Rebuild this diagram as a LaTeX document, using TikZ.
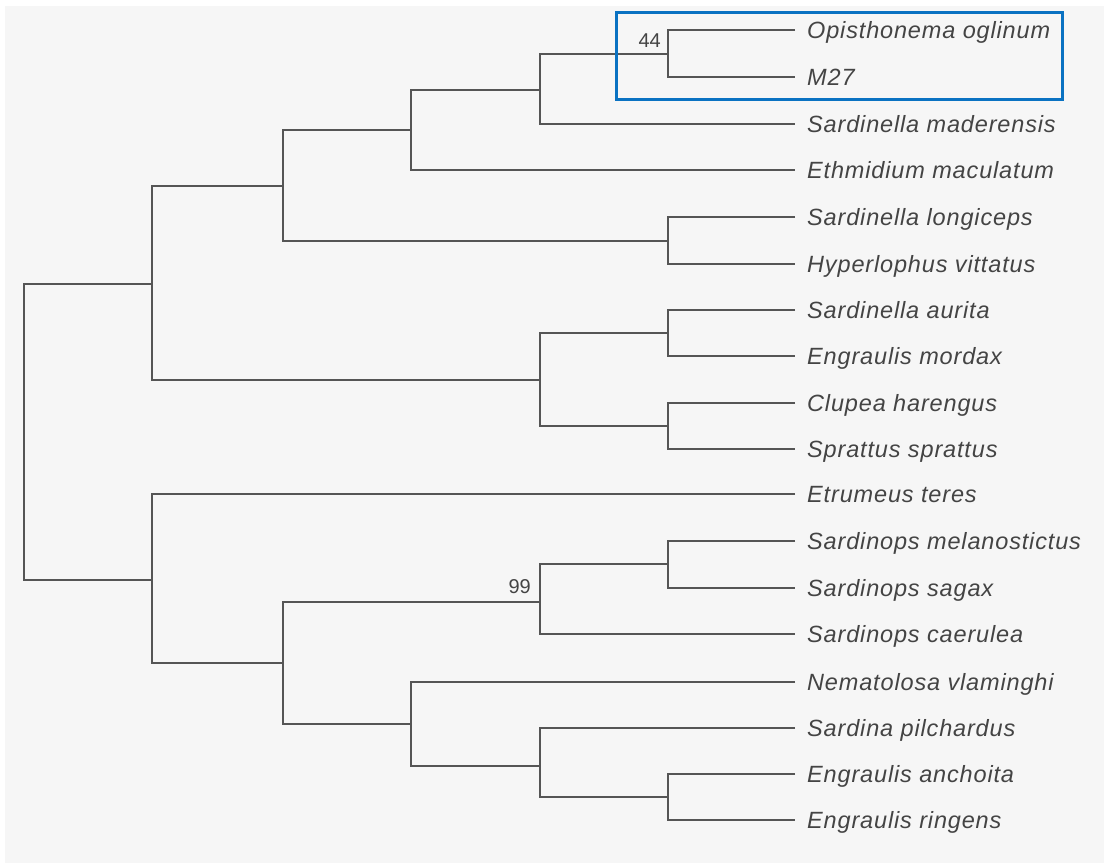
\documentclass[tikz,border=0pt]{standalone}
\usepackage{fontspec}
\setmainfont{Liberation Sans}
\begin{document}
\begin{tikzpicture}[x=1pt,y=-1pt,
  branch/.style={draw=linegray,line width=1.6pt},
  leaf/.style={anchor=west,inner xsep=12pt,inner ysep=0pt,text height=18pt,text depth=2pt,
    font=\fontsize{23.5}{26}\selectfont\itshape\addfontfeature{LetterSpace=3.6},text=textgray},
  support/.style={font=\fontsize{20}{22}\selectfont,text=textgray,inner sep=0pt},
  hilite/.style={draw=boxblue,line width=3pt}]
\definecolor{linegray}{HTML}{555555}
\definecolor{textgray}{HTML}{444444}
\definecolor{boxblue}{HTML}{0A72C2}
\definecolor{bg}{HTML}{F6F6F6}
\useasboundingbox (0,0) rectangle (1104,863);
\fill[white] (0,0) rectangle (1104,863);
\fill[bg] (5,6) rectangle (1104,863);
% leaves
\node[leaf] (l1) at (795,30) {Opisthonema oglinum};
\node[leaf] (l2) at (795,77) {M27};
\node[leaf] (l3) at (795,124) {Sardinella maderensis};
\node[leaf] (l4) at (795,170) {Ethmidium maculatum};
\node[leaf] (l5) at (795,217) {Sardinella longiceps};
\node[leaf] (l6) at (795,264) {Hyperlophus vittatus};
\node[leaf] (l7) at (795,310) {Sardinella aurita};
\node[leaf] (l8) at (795,356) {Engraulis mordax};
\node[leaf] (l9) at (795,403) {Clupea harengus};
\node[leaf] (l10) at (795,449) {Sprattus sprattus};
\node[leaf] (l11) at (795,494) {Etrumeus teres};
\node[leaf] (l12) at (795,541) {Sardinops melanostictus};
\node[leaf] (l13) at (795,588) {Sardinops sagax};
\node[leaf] (l14) at (795,634) {Sardinops caerulea};
\node[leaf] (l15) at (795,682) {Nematolosa vlaminghi};
\node[leaf] (l16) at (795,728) {Sardina pilchardus};
\node[leaf] (l17) at (795,774) {Engraulis anchoita};
\node[leaf] (l18) at (795,820) {Engraulis ringens};
% internal nodes
\coordinate (nE) at (668,54);
\coordinate (nD) at (540,90);
\coordinate (nC) at (411,130);
\coordinate (nF) at (668,241);
\coordinate (nB) at (283,186);
\coordinate (nH) at (668,333);
\coordinate (nI) at (668,426);
\coordinate (nG) at (540,380);
\coordinate (nA) at (152,284);
\coordinate (nM) at (668,564);
\coordinate (nL) at (540,602);
\coordinate (nP) at (668,797);
\coordinate (nO) at (540,766);
\coordinate (nN) at (411,724);
\coordinate (nK) at (283,663);
\coordinate (nJ) at (152,580);
\coordinate (root) at (24,432);
% branches
\draw[branch] (l1.west) -| (nE) |- (l2.west);
\draw[branch] (nE) -| (nD) |- (l3.west);
\draw[branch] (nD) -| (nC) |- (l4.west);
\draw[branch] (l5.west) -| (nF) |- (l6.west);
\draw[branch] (nC) -| (nB) |- (nF);
\draw[branch] (l7.west) -| (nH) |- (l8.west);
\draw[branch] (l9.west) -| (nI) |- (l10.west);
\draw[branch] (nH) -| (nG) |- (nI);
\draw[branch] (nB) -| (nA) |- (nG);
\draw[branch] (l12.west) -| (nM) |- (l13.west);
\draw[branch] (nM) -| (nL) |- (l14.west);
\draw[branch] (l17.west) -| (nP) |- (l18.west);
\draw[branch] (l16.west) -| (nO) |- (nP);
\draw[branch] (l15.west) -| (nN) |- (nO);
\draw[branch] (nL) -| (nK) |- (nN);
\draw[branch] (l11.west) -| (nJ) |- (nK);
\draw[branch] (nA) -| (root) |- (nJ);
% support values
\node[support,anchor=south east] (s44) at (661,48) {44};
\node[support,anchor=south east] (s99) at (531,594) {99};
% highlight box
\draw[hilite] (616,12) rectangle (1062,99);
\end{tikzpicture}
\end{document}
